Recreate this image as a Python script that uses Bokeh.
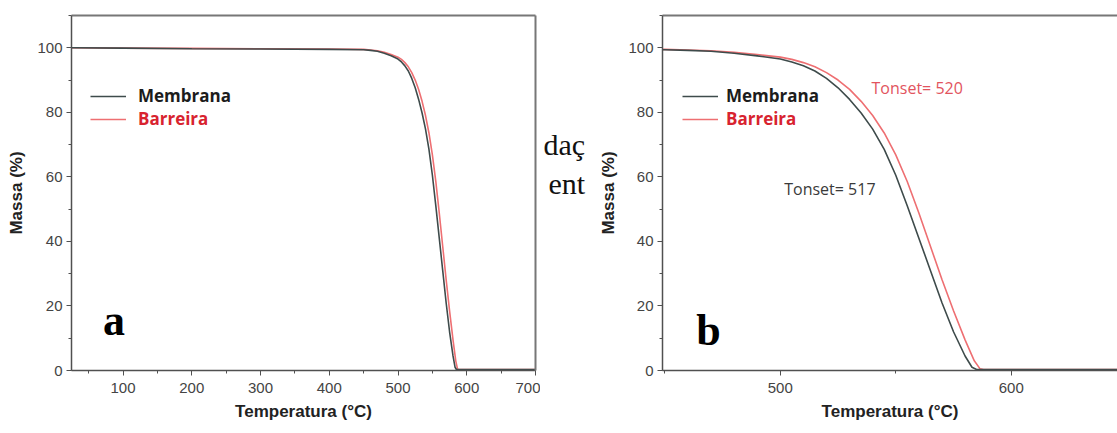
from bokeh.plotting import figure
from bokeh.models import (Range1d, LinearAxis, SingleIntervalTicker, FixedTicker,
                          Legend, LegendItem, Label)
from bokeh.layouts import row
from bokeh.embed import file_html
from bokeh.resources import INLINE

# TGA curves: temperature (°C) and residual mass (%)
temp_membrana = [25, 100, 200, 300, 400, 450, 460, 470, 480, 490, 500, 505, 510, 515, 520,
                 525, 530, 535, 540, 545, 550, 555, 560, 565, 570, 575, 580, 583, 585,
                 600, 650, 700]
massa_membrana = [100.0, 99.9, 99.7, 99.6, 99.5, 99.4, 99.2, 98.9, 98.3, 97.5, 96.5, 95.6,
                  94.4, 92.8, 90.5, 87.6, 84.0, 79.8, 74.8, 68.5, 60.5, 51.0, 41.0, 31.0,
                  21.0, 12.0, 4.5, 1.0, 0.3, 0.3, 0.3, 0.3]

temp_barreira = [25, 100, 200, 300, 400, 450, 460, 470, 480, 490, 500, 505, 510, 515, 520,
                 525, 530, 535, 540, 545, 550, 555, 560, 565, 570, 575, 580, 584, 586.5,
                 588, 600, 650, 700]
massa_barreira = [100.0, 99.9, 99.8, 99.7, 99.6, 99.5, 99.3, 99.1, 98.6, 97.9, 97.1, 96.4,
                  95.4, 94.1, 92.3, 90.0, 87.1, 83.4, 79.0, 73.6, 66.8, 58.5, 48.8, 38.5,
                  28.2, 18.5, 9.5, 3.0, 0.5, 0.3, 0.3, 0.3, 0.3]

series_names = ["Membrana", "Barreira"]
tonset_membrana = 517
tonset_barreira = 520

COL_M = "#3e4b4b"
COL_B = "#ee6f72"
TXT_B = "#d8232f"
AXIS = "#505050"


def make_panel(width, x_start, x_end, left, right, right_border):
    p = figure(width=width, height=433, x_range=Range1d(x_start, x_end),
               y_range=Range1d(0, 110), output_backend="svg", toolbar_location=None,
               min_border_left=left, min_border_right=right, min_border_top=15,
               min_border_bottom=63)
    p.grid.visible = False
    p.outline_line_color = None
    p.background_fill_color = "white"
    p.border_fill_color = "white"

    p.xaxis.ticker = SingleIntervalTicker(interval=100, num_minor_ticks=2)
    p.yaxis.ticker = SingleIntervalTicker(interval=20, num_minor_ticks=2)
    p.xaxis.axis_label = "Temperatura (°C)"
    p.yaxis.axis_label = "Massa (%)"
    for ax in (p.xaxis[0], p.yaxis[0]):
        ax.axis_line_color = AXIS
        ax.axis_line_width = 1.5
        ax.major_tick_line_color = AXIS
        ax.minor_tick_line_color = AXIS
        ax.major_tick_out = 5
        ax.major_tick_in = 0
        ax.minor_tick_out = 3
        ax.minor_tick_in = 0
        ax.major_label_text_font = "Liberation Sans"
        ax.major_label_text_font_size = "15px"
        ax.major_label_text_color = "#444444"
        ax.axis_label_text_font = "Liberation Sans"
        ax.axis_label_text_font_style = "bold"
        ax.axis_label_text_font_size = "17px"
        ax.axis_label_text_color = "#222222"
    p.xaxis[0].major_label_standoff = 7
    p.xaxis[0].axis_label_standoff = 6
    p.yaxis[0].major_label_standoff = 4

    # plain frame lines on top (and right) without ticks
    sides = ["above"] + (["right"] if right_border else [])
    for side in sides:
        b = LinearAxis(ticker=FixedTicker(ticks=[]), major_label_text_font_size="0px",
                       axis_line_color="#777777", axis_line_width=2,
                       major_tick_line_color=None, minor_tick_line_color=None,
                       major_label_standoff=0)
        p.add_layout(b, side)

    rb = p.line(temp_barreira, massa_barreira, line_color=COL_B, line_width=1.6)
    rm = p.line(temp_membrana, massa_membrana, line_color=COL_M, line_width=1.6)
    return p, rm, rb


def add_legend(p, rm, rb, x, y_top, standoff):
    for i, (r, name, color) in enumerate([(rm, series_names[0], "#1c1c1c"),
                                          (rb, series_names[1], TXT_B)]):
        leg = Legend(items=[LegendItem(label=name, renderers=[r])],
                     location=(x, y_top - 23 * i), border_line_color=None,
                     background_fill_alpha=0, padding=0, margin=0, spacing=0,
                     glyph_width=36, glyph_height=20, label_height=20,
                     label_standoff=standoff, label_text_font="Open Sans",
                     label_text_font_style="bold", label_text_font_size="17px",
                     label_text_color=color)
        p.add_layout(leg)


# panel a: full temperature range
pa, rma, rba = make_panel(540, 25, 700, 71, 5, True)
pa.yaxis[0].axis_label_standoff = 8
add_legend(pa, rma, rba, 19, 263, 12)
pa.add_layout(Label(x=71, y=7.8, text="a", text_font="Liberation Serif",
                    text_font_style="bold", text_font_size="44px", text_color="black"))

# strip of running page text between the two panels (y counted from the top)
gap = figure(width=56, height=433, x_range=Range1d(0, 56), y_range=Range1d(433, 0),
             output_backend="svg", toolbar_location=None, x_axis_type=None,
             y_axis_type=None, min_border=0, outline_line_color=None)
gap.grid.visible = False
gap.add_layout(Label(x=3, y=157, text="daç", text_font="Liberation Serif",
                     text_font_size="30px", text_color="#111111",
                     text_baseline="alphabetic"))
gap.add_layout(Label(x=8, y=205, text="ent", text_font="Liberation Serif",
                     text_font_size="30px", text_color="#111111",
                     text_baseline="alphabetic"))

# panel b: zoom on the decomposition step
pb, rmb, rbb = make_panel(521, 449, 646, 62, 0, False)
pb.yaxis[0].axis_label_standoff = 7
add_legend(pb, rmb, rbb, 20, 263, 8)
pb.add_layout(Label(x=463.6, y=4.7, text="b", text_font="Liberation Serif",
                    text_font_style="bold", text_font_size="44px", text_color="black"))
pb.add_layout(Label(x=539.5, y=87.6, text=f"Tonset= {tonset_barreira}",
                    text_font="Open Sans", text_font_size="16px", text_color="#e2545e",
                    text_baseline="middle"))
pb.add_layout(Label(x=501.7, y=56.2, text=f"Tonset= {tonset_membrana}",
                    text_font="Open Sans", text_font_size="16px", text_color="#3a3a3a",
                    text_baseline="middle"))

layout = row(pa, gap, pb, spacing=0)
open("out.html", "w").write(file_html(layout, INLINE))
